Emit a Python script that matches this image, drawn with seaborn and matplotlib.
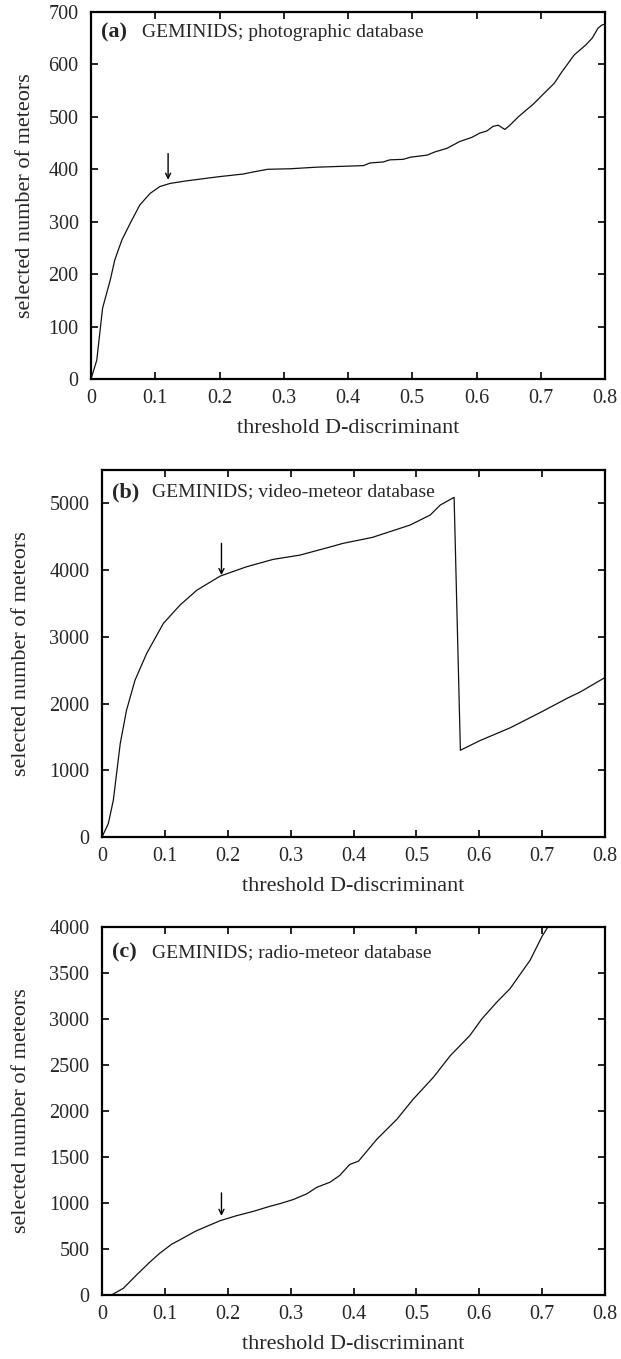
import matplotlib
matplotlib.use("Agg")
import matplotlib.pyplot as plt
import seaborn as sns
import pandas as pd
from matplotlib.ticker import FuncFormatter

# ---------------- data ----------------
a_x = [0, 0.009, 0.018, 0.03, 0.037, 0.048, 0.061, 0.076, 0.092, 0.107, 0.123, 0.149,
       0.2, 0.237, 0.253, 0.275, 0.31, 0.351, 0.424, 0.434, 0.455, 0.465, 0.486, 0.497,
       0.523, 0.535, 0.554, 0.574, 0.593, 0.605, 0.616, 0.626, 0.634, 0.644, 0.652,
       0.665, 0.689, 0.702, 0.721, 0.733, 0.752, 0.770, 0.780, 0.789, 0.795, 0.8]
a_y = [0, 36, 135, 189, 227, 265, 297, 332, 354, 367, 373, 378,
       386, 391, 395, 400, 401, 404, 407, 412, 414, 418, 419, 423,
       427, 433, 440, 453, 461, 469, 473, 482, 484, 476, 484,
       500, 525, 541, 564, 586, 618, 637, 650, 669, 675, 677]

b_x = [0, 0.01, 0.018, 0.029, 0.039, 0.0525, 0.071, 0.0975, 0.124, 0.151, 0.188, 0.23,
       0.272, 0.315, 0.368, 0.383, 0.43, 0.49, 0.522, 0.538, 0.56, 0.57, 0.6, 0.65,
       0.7, 0.72, 0.74, 0.76, 0.78, 0.8]
b_y = [0, 200, 550, 1400, 1900, 2350, 2750, 3200, 3475, 3700, 3910, 4050,
       4160, 4225, 4360, 4400, 4490, 4675, 4825, 4975, 5090, 1300, 1440, 1640,
       1880, 1980, 2080, 2170, 2280, 2390]

c_x = [0, 0.015, 0.034, 0.055, 0.076, 0.092, 0.111, 0.124, 0.148, 0.1665, 0.188, 0.214,
       0.241, 0.267, 0.283, 0.304, 0.3255, 0.3415, 0.3626, 0.378, 0.394, 0.408, 0.437,
       0.469, 0.495, 0.527, 0.554, 0.585, 0.604, 0.628, 0.649, 0.681, 0.70, 0.711, 0.72]
c_y = [0, 0, 73, 218, 357, 455, 553, 600, 691, 746, 808, 862,
       910, 964, 993, 1037, 1099, 1170, 1226, 1299, 1419, 1455, 1692,
       1910, 2129, 2366, 2602, 2820, 3000, 3184, 3330, 3640, 3900, 4020, 4120]

panel_tags = ["(a)", "(b)", "(c)"]
panel_texts = ["GEMINIDS; photographic database",
               "GEMINIDS; video-meteor database",
               "GEMINIDS; radio-meteor database"]
y_limits = [700, 5500, 4000]
y_steps = [100, 1000, 500]
x_ticks = [0, 0.1, 0.2, 0.3, 0.4, 0.5, 0.6, 0.7, 0.8]
arrow_x = [0.12, 0.19, 0.19]
arrow_from = [430, 4400, 1110]
arrow_to = [380, 3925, 860]
x_label = "threshold D-discriminant"
y_label = "selected number of meteors"

# ---------------- style ----------------
sns.set_style("ticks")
plt.rcParams["font.family"] = ["Liberation Serif", "DejaVu Serif"]

fig = plt.figure(figsize=(6.21, 13.59), dpi=100)
W, H = 621.0, 1359.0
# pixel boxes: left, right, top, bottom
boxes = [(91, 605, 12, 379), (102, 605, 470, 837), (102, 605, 927, 1295)]
ylab_x = [-0.109, -0.141, -0.141]
tag_y = [0.945, 0.94, 0.93]

series = [(a_x, a_y), (b_x, b_y), (c_x, c_y)]

for i, ((xs, ys), (l, r, t, b)) in enumerate(zip(series, boxes)):
    ax = fig.add_axes([l / W, 1 - b / H, (r - l) / W, (b - t) / H])
    df = pd.DataFrame({"x": xs, "y": ys})
    sns.lineplot(data=df, x="x", y="y", ax=ax, color="#111111", linewidth=0.9,
                 sort=False, estimator=None)
    ax.set_xlim(0, 0.8)
    ax.set_ylim(0, y_limits[i])
    ax.set_xticks(x_ticks)
    ax.set_yticks(list(range(0, y_limits[i] + 1, y_steps[i])))
    ax.xaxis.set_major_formatter(FuncFormatter(lambda v, p: "0" if abs(v) < 1e-9 else f"{v:g}"))
    ax.tick_params(direction="in", length=5, width=1.2, top=True, right=True,
                   labelsize=14.5, color="black")
    ax.tick_params(axis="x", pad=7)
    ax.tick_params(axis="y", pad=9)
    for s in ax.spines.values():
        s.set_visible(True)
        s.set_linewidth(1.6)
        s.set_color("black")
    ax.set_xlabel(x_label, fontsize=16, labelpad=8)
    ax.set_ylabel(y_label, fontsize=16)
    ax.yaxis.set_label_coords(ylab_x[i], 0.5)
    ax.text(0.02, tag_y[i], panel_tags[i], transform=ax.transAxes, fontsize=16,
            fontweight="bold", va="center", ha="left")
    ax.text(0.10, tag_y[i], panel_texts[i], transform=ax.transAxes, fontsize=14,
            va="center", ha="left")
    ax.annotate("", xy=(arrow_x[i], arrow_to[i]), xytext=(arrow_x[i], arrow_from[i]),
                arrowprops=dict(arrowstyle="->", color="black", lw=1.0,
                                shrinkA=0, shrinkB=0, mutation_scale=9))

fig.savefig("out.png", dpi=100)
